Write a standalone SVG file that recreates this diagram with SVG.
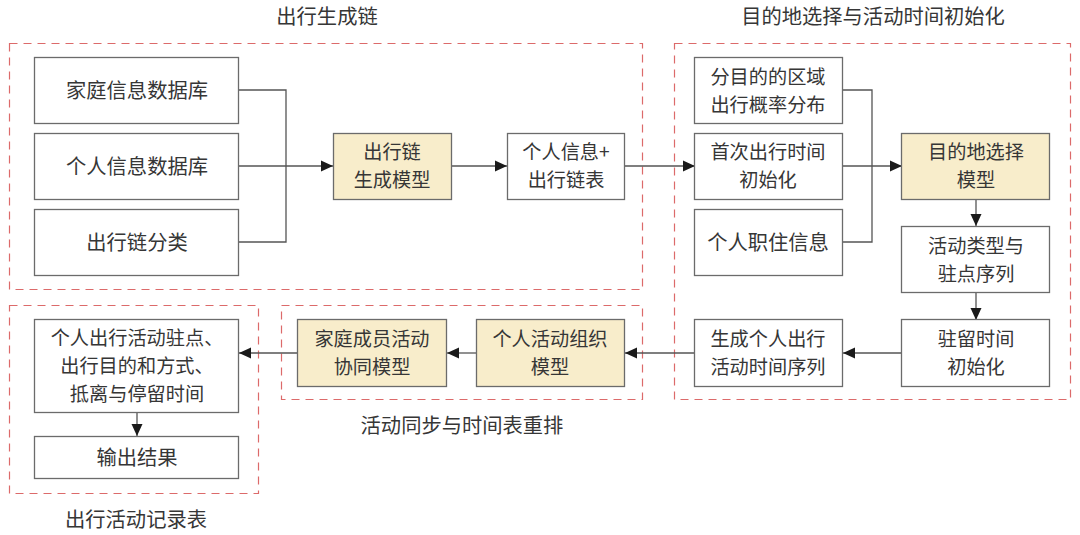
<svg xmlns="http://www.w3.org/2000/svg" width="1080" height="535" viewBox="0 0 1080 535">
<defs>
<marker id="arr" markerWidth="12" markerHeight="12" refX="12" refY="6" orient="auto" markerUnits="userSpaceOnUse">
<path d="M0,0.5 L12,6 L0,11.5 Z" fill="#1a1a1a"/>
</marker>
<style>
text{font-family:"Noto Sans CJK SC","Noto Sans",sans-serif;font-size:20.3px;fill:#363636;text-anchor:middle}
text.m{font-size:19.2px}
.box{fill:#fff;stroke:#6b6b6b;stroke-width:1.3}
.hl{fill:#f8edcb;stroke:#6b6b6b;stroke-width:1.3}
.grp{fill:none;stroke:#dc6a6a;stroke-width:1.2;stroke-dasharray:8,6}
.c{fill:none;stroke:#555;stroke-width:1.3}
.ca{fill:none;stroke:#555;stroke-width:1.3;marker-end:url(#arr)}
</style>
</defs>
<rect width="1080" height="535" fill="#fff"/>

<g id="groups">
<rect class="grp" x="9.5" y="43.5" width="633" height="246"/>
<rect class="grp" x="674.5" y="43.5" width="396" height="356"/>
<rect class="grp" x="281.5" y="305.5" width="361" height="94"/>
<rect class="grp" x="9.5" y="305.5" width="249" height="188"/>
<text x="327" y="24">出行生成链</text>
<text x="873" y="24">目的地选择与活动时间初始化</text>
<text x="462" y="433">活动同步与时间表重排</text>
<text x="136" y="527">出行活动记录表</text>
</g>

<g id="connectors">
<polyline class="c" points="239,90 286,90 286,242 239,242"/>
<line class="ca" x1="239" y1="166" x2="333" y2="166"/>
<line class="ca" x1="452" y1="166" x2="507" y2="166"/>
<line class="ca" x1="625" y1="166" x2="695" y2="166"/>
<polyline class="c" points="843,90 872,90 872,242 843,242"/>
<line class="ca" x1="843" y1="166" x2="902" y2="166"/>
<line class="ca" x1="976" y1="200" x2="976" y2="226"/>
<line class="ca" x1="976" y1="293" x2="976" y2="320"/>
<line class="ca" x1="902" y1="353" x2="843" y2="353"/>
<line class="ca" x1="695" y1="353" x2="625" y2="353"/>
<line class="ca" x1="476" y1="353" x2="447" y2="353"/>
<line class="ca" x1="298" y1="353" x2="239" y2="353"/>
<line class="ca" x1="137" y1="413" x2="137" y2="436"/>
</g>

<g id="n1"><rect class="box" x="34.5" y="57.5" width="204" height="66"/><text x="137" y="98">家庭信息数据库</text></g>
<g id="n2"><rect class="box" x="34.5" y="133.5" width="204" height="66"/><text x="137" y="174">个人信息数据库</text></g>
<g id="n3"><rect class="box" x="34.5" y="209.5" width="204" height="66"/><text x="137" y="250">出行链分类</text></g>
<g id="n4"><rect class="hl" x="333.5" y="133.5" width="118" height="66"/><text class="m" x="392" y="159">出行链</text><text class="m" x="392" y="187">生成模型</text></g>
<g id="n5"><rect class="box" x="507.5" y="133.5" width="117" height="66"/><text class="m" x="566" y="159">个人信息+</text><text class="m" x="566" y="187">出行链表</text></g>
<g id="n6"><rect class="box" x="694.5" y="57.5" width="148" height="66"/><text class="m" x="768" y="83.5">分目的的区域</text><text class="m" x="768" y="111.5">出行概率分布</text></g>
<g id="n7"><rect class="box" x="694.5" y="133.5" width="148" height="66"/><text class="m" x="768" y="159">首次出行时间</text><text class="m" x="768" y="187">初始化</text></g>
<g id="n8"><rect class="box" x="694.5" y="209.5" width="148" height="66"/><text x="768" y="250">个人职住信息</text></g>
<g id="n9"><rect class="hl" x="901.5" y="133.5" width="148" height="66"/><text class="m" x="976" y="159">目的地选择</text><text class="m" x="976" y="187">模型</text></g>
<g id="n10"><rect class="box" x="901.5" y="226.5" width="148" height="66"/><text class="m" x="976" y="252.5">活动类型与</text><text class="m" x="976" y="280.5">驻点序列</text></g>
<g id="n11"><rect class="box" x="901.5" y="319.5" width="148" height="67"/><text class="m" x="976" y="346">驻留时间</text><text class="m" x="976" y="374">初始化</text></g>
<g id="n12"><rect class="box" x="694.5" y="319.5" width="148" height="67"/><text class="m" x="768" y="346">生成个人出行</text><text class="m" x="768" y="374">活动时间序列</text></g>
<g id="n13"><rect class="hl" x="476.5" y="319.5" width="148" height="67"/><text class="m" x="550" y="346">个人活动组织</text><text class="m" x="550" y="374">模型</text></g>
<g id="n14"><rect class="hl" x="297.5" y="319.5" width="149" height="67"/><text class="m" x="372" y="346">家庭成员活动</text><text class="m" x="372" y="374">协同模型</text></g>
<g id="n15"><rect class="box" x="34.5" y="319.5" width="204" height="93"/><text class="m" x="137" y="345">个人出行活动驻点、</text><text class="m" x="137" y="373">出行目的和方式、</text><text class="m" x="137" y="401">抵离与停留时间</text></g>
<g id="n16"><rect class="box" x="34.5" y="436.5" width="204" height="42"/><text x="137" y="465">输出结果</text></g>
</svg>
